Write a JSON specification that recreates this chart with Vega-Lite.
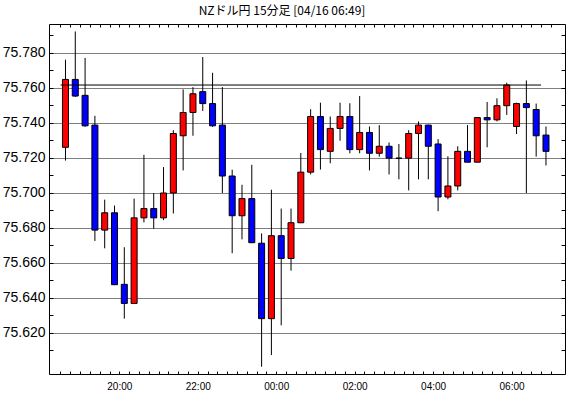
{
  "$schema": "https://vega.github.io/schema/vega-lite/v6.json",
  "width": 516,
  "height": 350,
  "autosize": {"type": "none"},
  "padding": {"left": 49, "top": 24, "right": 5, "bottom": 24},
  "background": "white",
  "title": {"text": "NZドル円 15分足 [04/16 06:49]", "font": "Noto Sans CJK JP", "fontSize": 12, "fontWeight": "normal", "color": "black", "anchor": "middle", "dx": -25, "offset": 6},
  "config": {
    "view": {"stroke": "black", "strokeWidth": 1},
    "axis": {"labelFont": "Liberation Sans", "labelColor": "black", "tickColor": "black", "domain": false}
  },
  "datasets": {
    "candles": [
      {"t": "2024-04-15T18:30:00Z", "o": 75.7261, "h": 75.7762, "l": 75.7185, "c": 75.7649},
      {"t": "2024-04-15T18:45:00Z", "o": 75.7649, "h": 75.7923, "l": 75.7549, "c": 75.7554},
      {"t": "2024-04-15T19:00:00Z", "o": 75.7558, "h": 75.7772, "l": 75.7378, "c": 75.7384},
      {"t": "2024-04-15T19:15:00Z", "o": 75.7388, "h": 75.7441, "l": 75.6726, "c": 75.6788},
      {"t": "2024-04-15T19:30:00Z", "o": 75.6788, "h": 75.6962, "l": 75.6684, "c": 75.6887},
      {"t": "2024-04-15T19:45:00Z", "o": 75.6887, "h": 75.6928, "l": 75.6474, "c": 75.6476},
      {"t": "2024-04-15T20:00:00Z", "o": 75.6478, "h": 75.6690, "l": 75.6282, "c": 75.6369},
      {"t": "2024-04-15T20:15:00Z", "o": 75.6369, "h": 75.6968, "l": 75.6367, "c": 75.6858},
      {"t": "2024-04-15T20:30:00Z", "o": 75.6858, "h": 75.7218, "l": 75.6832, "c": 75.6911},
      {"t": "2024-04-15T20:45:00Z", "o": 75.6911, "h": 75.7000, "l": 75.6796, "c": 75.6858},
      {"t": "2024-04-15T21:00:00Z", "o": 75.6858, "h": 75.7148, "l": 75.6845, "c": 75.7000},
      {"t": "2024-04-15T21:15:00Z", "o": 75.7000, "h": 75.7359, "l": 75.6883, "c": 75.7340},
      {"t": "2024-04-15T21:30:00Z", "o": 75.7327, "h": 75.7592, "l": 75.7129, "c": 75.7460},
      {"t": "2024-04-15T21:45:00Z", "o": 75.7460, "h": 75.7605, "l": 75.7327, "c": 75.7567},
      {"t": "2024-04-15T22:00:00Z", "o": 75.7579, "h": 75.7777, "l": 75.7469, "c": 75.7511},
      {"t": "2024-04-15T22:15:00Z", "o": 75.7511, "h": 75.7687, "l": 75.7378, "c": 75.7384},
      {"t": "2024-04-15T22:30:00Z", "o": 75.7388, "h": 75.7605, "l": 75.7000, "c": 75.7097},
      {"t": "2024-04-15T22:45:00Z", "o": 75.7097, "h": 75.7133, "l": 75.6656, "c": 75.6870},
      {"t": "2024-04-15T23:00:00Z", "o": 75.6870, "h": 75.7047, "l": 75.6735, "c": 75.6968},
      {"t": "2024-04-15T23:15:00Z", "o": 75.6968, "h": 75.7161, "l": 75.6714, "c": 75.6716},
      {"t": "2024-04-15T23:30:00Z", "o": 75.6713, "h": 75.6769, "l": 75.6007, "c": 75.6282},
      {"t": "2024-04-15T23:45:00Z", "o": 75.6282, "h": 75.7019, "l": 75.6074, "c": 75.6756},
      {"t": "2024-04-16T00:00:00Z", "o": 75.6756, "h": 75.6911, "l": 75.6244, "c": 75.6626},
      {"t": "2024-04-16T00:15:00Z", "o": 75.6626, "h": 75.6911, "l": 75.6556, "c": 75.6830},
      {"t": "2024-04-16T00:30:00Z", "o": 75.6830, "h": 75.7229, "l": 75.6828, "c": 75.7119},
      {"t": "2024-04-16T00:45:00Z", "o": 75.7119, "h": 75.7479, "l": 75.7106, "c": 75.7437},
      {"t": "2024-04-16T01:00:00Z", "o": 75.7437, "h": 75.7516, "l": 75.7134, "c": 75.7248},
      {"t": "2024-04-16T01:15:00Z", "o": 75.7238, "h": 75.7437, "l": 75.7170, "c": 75.7369},
      {"t": "2024-04-16T01:30:00Z", "o": 75.7369, "h": 75.7516, "l": 75.7299, "c": 75.7437},
      {"t": "2024-04-16T01:45:00Z", "o": 75.7437, "h": 75.7513, "l": 75.7227, "c": 75.7248},
      {"t": "2024-04-16T02:00:00Z", "o": 75.7248, "h": 75.7554, "l": 75.7227, "c": 75.7346},
      {"t": "2024-04-16T02:15:00Z", "o": 75.7346, "h": 75.7380, "l": 75.7129, "c": 75.7227},
      {"t": "2024-04-16T02:30:00Z", "o": 75.7227, "h": 75.7388, "l": 75.7208, "c": 75.7267},
      {"t": "2024-04-16T02:45:00Z", "o": 75.7267, "h": 75.7289, "l": 75.7106, "c": 75.7199},
      {"t": "2024-04-16T03:00:00Z", "o": 75.7199, "h": 75.7280, "l": 75.7078, "c": 75.7199},
      {"t": "2024-04-16T03:15:00Z", "o": 75.7199, "h": 75.7359, "l": 75.7015, "c": 75.7340},
      {"t": "2024-04-16T03:30:00Z", "o": 75.7340, "h": 75.7409, "l": 75.7078, "c": 75.7388},
      {"t": "2024-04-16T03:45:00Z", "o": 75.7388, "h": 75.7390, "l": 75.7078, "c": 75.7267},
      {"t": "2024-04-16T04:00:00Z", "o": 75.7280, "h": 75.7308, "l": 75.6896, "c": 75.6977},
      {"t": "2024-04-16T04:15:00Z", "o": 75.6977, "h": 75.7210, "l": 75.6964, "c": 75.7040},
      {"t": "2024-04-16T04:30:00Z", "o": 75.7040, "h": 75.7267, "l": 75.7015, "c": 75.7238},
      {"t": "2024-04-16T04:45:00Z", "o": 75.7238, "h": 75.7388, "l": 75.7176, "c": 75.7176},
      {"t": "2024-04-16T05:00:00Z", "o": 75.7176, "h": 75.7431, "l": 75.7176, "c": 75.7431},
      {"t": "2024-04-16T05:15:00Z", "o": 75.7431, "h": 75.7520, "l": 75.7261, "c": 75.7418},
      {"t": "2024-04-16T05:30:00Z", "o": 75.7418, "h": 75.7541, "l": 75.7409, "c": 75.7499},
      {"t": "2024-04-16T05:45:00Z", "o": 75.7499, "h": 75.7630, "l": 75.7446, "c": 75.7617},
      {"t": "2024-04-16T06:00:00Z", "o": 75.7380, "h": 75.7516, "l": 75.7337, "c": 75.7511},
      {"t": "2024-04-16T06:15:00Z", "o": 75.7511, "h": 75.7643, "l": 75.7000, "c": 75.7488},
      {"t": "2024-04-16T06:30:00Z", "o": 75.7477, "h": 75.7511, "l": 75.7208, "c": 75.7327},
      {"t": "2024-04-16T06:45:00Z", "o": 75.7331, "h": 75.7380, "l": 75.7157, "c": 75.7238}
    ],
    "hline": [
      {"t0": "2024-04-15T18:22:30Z", "t1": "2024-04-16T06:37:30Z", "v": 75.7617}
    ]
  },
  "layer": [
    {
      "data": {"name": "candles"},
      "mark": {"type": "rule", "color": "black", "strokeWidth": 1},
      "encoding": {
        "x": {
          "field": "t", "type": "temporal", "title": null,
          "scale": {"type": "utc", "domain": [{"year": 2024, "month": 4, "date": 15, "hours": 18, "minutes": 12, "seconds": 27, "utc": true}, {"year": 2024, "month": 4, "date": 16, "hours": 7, "minutes": 6, "seconds": 27, "utc": true}]},
          "axis": {
            "orient": "bottom",
            "values": [1713205800000, 1713206700000, 1713207600000, 1713208500000, 1713209400000, 1713210300000, 1713211200000, 1713212100000, 1713213000000, 1713213900000, 1713214800000, 1713215700000, 1713216600000, 1713217500000, 1713218400000, 1713219300000, 1713220200000, 1713221100000, 1713222000000, 1713222900000, 1713223800000, 1713224700000, 1713225600000, 1713226500000, 1713227400000, 1713228300000, 1713229200000, 1713230100000, 1713231000000, 1713231900000, 1713232800000, 1713233700000, 1713234600000, 1713235500000, 1713236400000, 1713237300000, 1713238200000, 1713239100000, 1713240000000, 1713240900000, 1713241800000, 1713242700000, 1713243600000, 1713244500000, 1713245400000, 1713246300000, 1713247200000, 1713248100000, 1713249000000, 1713249900000, 1713250800000],
            "format": "%H:%M",
            "labelExpr": "indexof(['20:00', '22:00', '00:00', '02:00', '04:00', '06:00'], datum.label) >= 0 ? datum.label : ''",
            "tickSize": -3,
            "tickOffset": -5,
            "labelFontSize": 10,
            "labelPadding": 10,
            "grid": false
          }
        },
        "y": {
          "field": "l", "type": "quantitative", "title": null,
          "scale": {"domain": [75.59657, 75.79657], "nice": false, "zero": false},
          "axis": {
            "orient": "left",
            "values": [75.61, 75.62, 75.63, 75.64, 75.65, 75.66, 75.67, 75.68, 75.69, 75.70, 75.71, 75.72, 75.73, 75.74, 75.75, 75.76, 75.77, 75.78, 75.79],
            "labelExpr": "round(datum.value * 100) % 2 == 0 ? format(datum.value, '.3f') : ''",
            "grid": true,
            "gridDash": [1, 1],
            "gridColor": "black",
            "gridOpacity": {"condition": {"test": "round(datum.value * 100) % 2 == 0", "value": 1}, "value": 0},
            "tickSize": -4,
            "labelFontSize": 14,
            "labelPadding": 8
          }
        },
        "y2": {"field": "h"}
      }
    },
    {
      "data": {"name": "candles"},
      "mark": {"type": "bar", "size": 6, "stroke": "black", "strokeWidth": 1},
      "encoding": {
        "x": {
          "field": "t", "type": "temporal",
          "axis": {
            "orient": "top",
            "values": [1713205800000, 1713206700000, 1713207600000, 1713208500000, 1713209400000, 1713210300000, 1713211200000, 1713212100000, 1713213000000, 1713213900000, 1713214800000, 1713215700000, 1713216600000, 1713217500000, 1713218400000, 1713219300000, 1713220200000, 1713221100000, 1713222000000, 1713222900000, 1713223800000, 1713224700000, 1713225600000, 1713226500000, 1713227400000, 1713228300000, 1713229200000, 1713230100000, 1713231000000, 1713231900000, 1713232800000, 1713233700000, 1713234600000, 1713235500000, 1713236400000, 1713237300000, 1713238200000, 1713239100000, 1713240000000, 1713240900000, 1713241800000, 1713242700000, 1713243600000, 1713244500000, 1713245400000, 1713246300000, 1713247200000, 1713248100000, 1713249000000, 1713249900000, 1713250800000],
            "labels": false,
            "tickSize": -3,
            "tickOffset": -5,
            "grid": false,
            "title": null
          }
        },
        "y": {
          "field": "o", "type": "quantitative",
          "axis": {
            "orient": "right",
            "values": [75.61, 75.62, 75.63, 75.64, 75.65, 75.66, 75.67, 75.68, 75.69, 75.70, 75.71, 75.72, 75.73, 75.74, 75.75, 75.76, 75.77, 75.78, 75.79],
            "labels": false,
            "tickSize": -4,
            "grid": false,
            "title": null
          }
        },
        "y2": {"field": "c"},
        "color": {"condition": {"test": "datum.c >= datum.o", "value": "#ff0000"}, "value": "#0000ff"}
      }
    },
    {
      "data": {"name": "hline"},
      "mark": {"type": "rule", "color": "black", "strokeWidth": 1},
      "encoding": {
        "x": {"field": "t0", "type": "temporal", "axis": null},
        "x2": {"field": "t1"},
        "y": {"field": "v", "type": "quantitative", "axis": null}
      }
    }
  ],
  "resolve": {"axis": {"x": "independent", "y": "independent"}}
}
